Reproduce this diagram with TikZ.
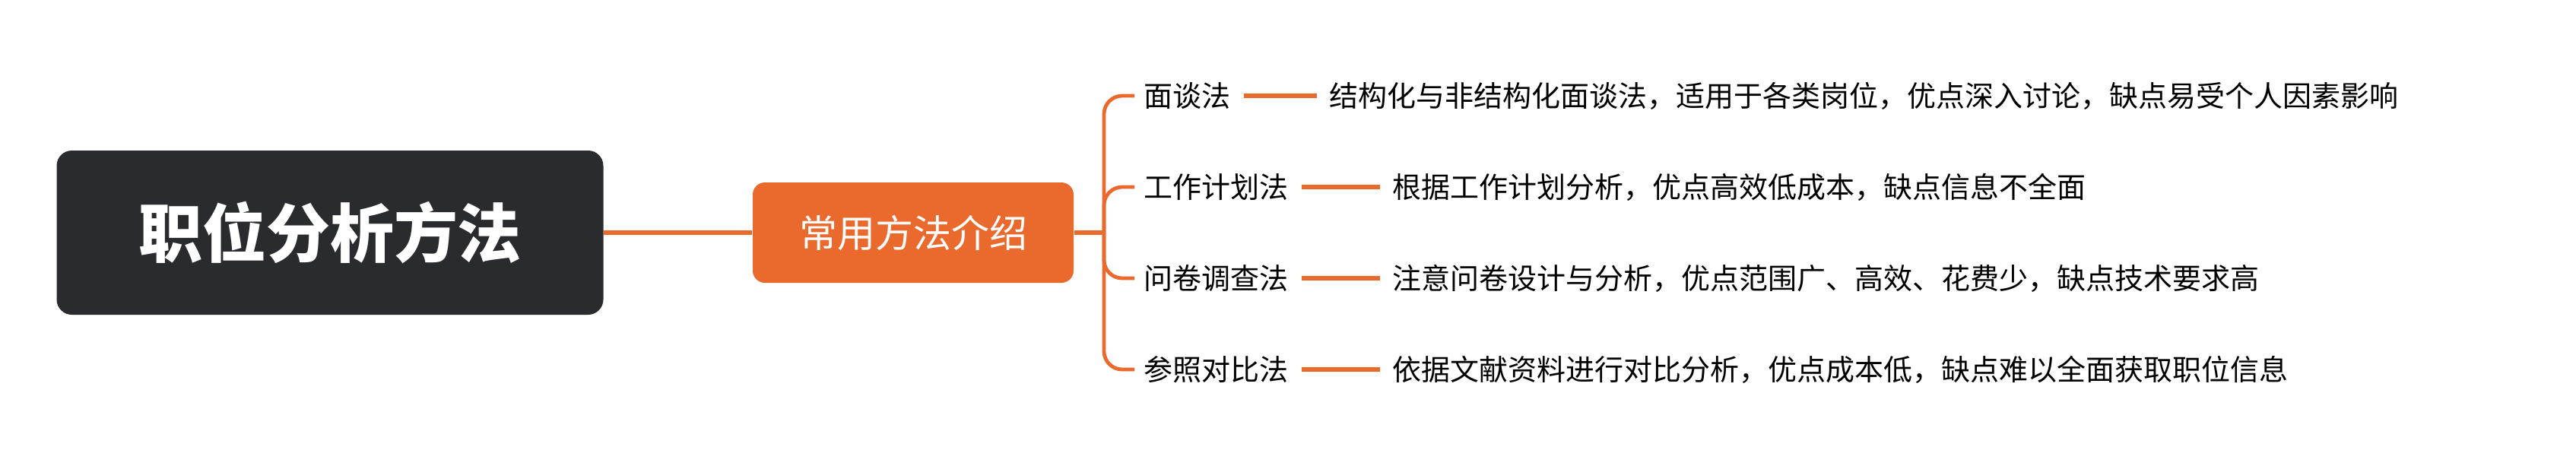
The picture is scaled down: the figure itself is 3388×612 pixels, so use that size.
\documentclass[tikz,border=0pt]{standalone}
\usepackage{fontspec}
\setmainfont{Noto Sans CJK SC}
\definecolor{org}{HTML}{EA6A2E}
\definecolor{dark}{HTML}{2A2B2F}
\begin{document}
\begin{tikzpicture}[x=0.25pt,y=-0.25pt,
  lbl/.style={anchor=west,inner sep=0pt,font=\fontsize{9.5pt}{11pt}\selectfont},
  conn/.style={draw=org,line width=1.4pt}]
\useasboundingbox (0,0) rectangle (3388,612);
\node[fill=dark,rounded corners=5pt,minimum width=719*0.25pt,minimum height=216*0.25pt,text=white,font=\fontsize{21pt}{24pt}\selectfont\bfseries] (root) at (434,306) {职位分析方法};
\node[fill=org,rounded corners=4pt,minimum width=422*0.25pt,minimum height=132*0.25pt,text=white,font=\fontsize{12.5pt}{14pt}\selectfont] (mid) at (1201,306) {常用方法介绍};
\draw[conn] (root.east) -- (mid.west);
\coordinate (j) at (1452,306);
\draw[conn] (mid.east) -- (j);
\node[lbl] (a1) at (1504,126) {面谈法};
\node[lbl] (a2) at (1504,246) {工作计划法};
\node[lbl] (a3) at (1504,366) {问卷调查法};
\node[lbl] (a4) at (1504,486) {参照对比法};
\foreach \i in {1,2,3,4}{
  \draw[draw=org,line width=1.2pt,rounded corners=6pt] (j) -- (j|-a\i.west) -- ([xshift=-3pt]a\i.west);
}
\node[lbl] (d1) at (1748,126) {结构化与非结构化面谈法，适用于各类岗位，优点深入讨论，缺点易受个人因素影响};
\node[lbl] (d2) at (1831,246) {根据工作计划分析，优点高效低成本，缺点信息不全面};
\node[lbl] (d3) at (1831,366) {注意问卷设计与分析，优点范围广、高效、花费少，缺点技术要求高};
\node[lbl] (d4) at (1831,486) {依据文献资料进行对比分析，优点成本低，缺点难以全面获取职位信息};
\foreach \i in {1,2,3,4}{
  \draw[conn] ([xshift=4pt]a\i.east) -- ([xshift=-4pt]d\i.west);
}
\end{tikzpicture}
\end{document}
